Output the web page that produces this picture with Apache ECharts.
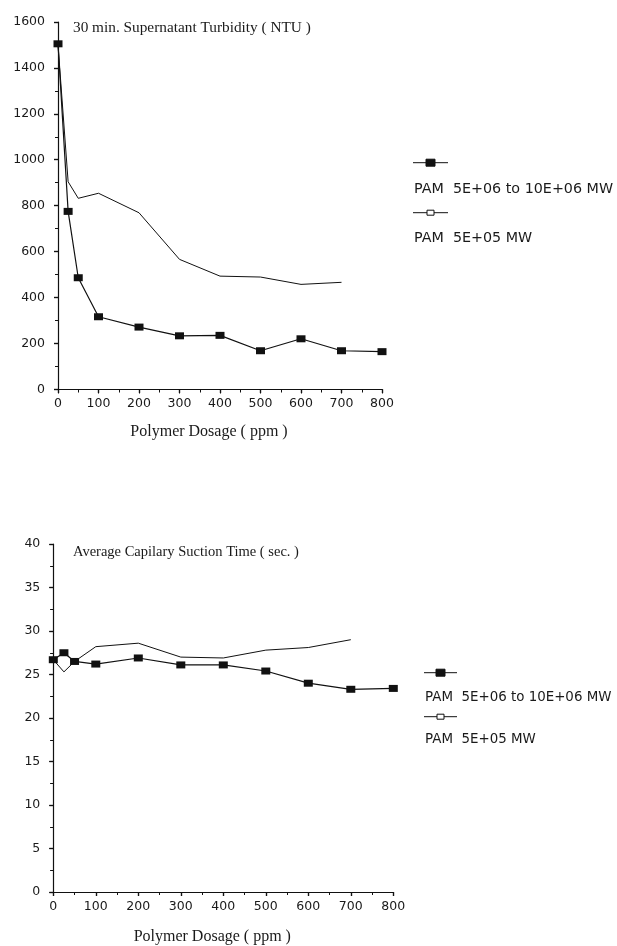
<!DOCTYPE html>
<html>
<head>
<meta charset="utf-8">
<script src="https://cdn.jsdelivr.net/npm/echarts@6/dist/echarts.min.js"></script>
<style>
  html, body { margin: 0; padding: 0; background: #fff; }
  #chart { width: 617px; height: 946px; }
</style>
</head>
<body>
<div id="chart"></div>
<script>
// Polymer dosage (ppm) at which each sample was taken
const dosage = [0, 25, 50, 100, 200, 300, 400, 500, 600, 700, 800];
const dosageLow = [0, 25, 50, 100, 200, 300, 400, 500, 600, 700];

// 30 min. supernatant turbidity (NTU)
const turbidityHigh = [1505, 775, 486, 316, 271, 233, 235, 168, 220, 168, 164];
const turbidityLow = [1500, 904, 832, 854, 769, 566, 493, 489, 457, 466];

// Average capillary suction time (sec.)
const cstHigh = [26.7, 27.5, 26.5, 26.2, 26.9, 26.1, 26.1, 25.4, 24.0, 23.3, 23.4];
const cstLow = [26.7, 25.3, 26.5, 28.2, 28.6, 27.0, 26.9, 27.8, 28.1, 29.0];

const seriesNames = ['PAM  5E+06 to 10E+06 MW', 'PAM  5E+05 MW'];
const titles = ['30 min. Supernatant Turbidity ( NTU )', 'Average Capilary Suction Time ( sec. )'];
const xName = 'Polymer Dosage ( ppm )';

const pairs = (xs, ys) => ys.map((v, i) => [xs[i], v]);

const INK = '#111';
const LABEL = '#1a1a1a';
const sansFont = '"DejaVu Sans", Verdana, sans-serif';
const serifFont = '"Liberation Serif", "Times New Roman", serif';

function xAxisPair(gridIndex, nameGap) {
  const base = {
    type: 'value', gridIndex, min: 0, max: 800, interval: 100,
    splitLine: { show: false },
    minorTick: { show: true, splitNumber: 2, length: 3, lineStyle: { color: INK, width: 1 } },
    axisTick: { show: true, length: 4, lineStyle: { color: INK, width: 1.2 } }
  };
  return [
    Object.assign({}, base, {
      name: xName, nameLocation: 'middle', nameGap,
      nameTextStyle: { fontFamily: serifFont, fontSize: 16, color: LABEL, padding: [0, 22, 0, 0] },
      axisLine: { show: true, lineStyle: { color: INK, width: 1.2 } },
      axisLabel: { fontFamily: sansFont, fontSize: 12.5, color: LABEL, margin: 8, formatter: v => String(v) }
    }),
    Object.assign({}, base, {
      axisLine: { show: false },
      axisTick: Object.assign({}, base.axisTick, { inside: true }),
      minorTick: Object.assign({}, base.minorTick, { inside: true }),
      axisLabel: { show: false }
    })
  ];
}

function yAxisPair(gridIndex, max, interval) {
  const base = {
    type: 'value', gridIndex, min: 0, max, interval,
    splitLine: { show: false },
    minorTick: { show: true, splitNumber: 2, length: 3, lineStyle: { color: INK, width: 1 } },
    axisTick: { show: true, length: 4, lineStyle: { color: INK, width: 1.2 } }
  };
  return [
    Object.assign({}, base, {
      axisLine: { show: true, lineStyle: { color: INK, width: 1.2 } },
      axisLabel: { fontFamily: sansFont, fontSize: 12.5, color: LABEL, margin: 13, formatter: v => String(v) }
    }),
    Object.assign({}, base, {
      axisLine: { show: false },
      axisTick: Object.assign({}, base.axisTick, { inside: true }),
      minorTick: Object.assign({}, base.minorTick, { inside: true }),
      axisLabel: { show: false }
    })
  ];
}

function filledSeries(x, y, data) {
  return {
    type: 'line', name: seriesNames[0], xAxisIndex: x, yAxisIndex: y,
    data, symbol: 'rect', symbolSize: [9, 7], showSymbol: true,
    itemStyle: { color: INK }, lineStyle: { color: INK, width: 1.2 },
    animation: false, z: 3
  };
}
function plainSeries(x, y, data) {
  return {
    type: 'line', name: seriesNames[1], xAxisIndex: x, yAxisIndex: y,
    data, showSymbol: false, symbol: 'none',
    lineStyle: { color: INK, width: 1 }, animation: false, z: 2
  };
}

// Legend key: short line with a square marker, label underneath
function legendKey(x1, x2, y, filled, w, h) {
  const cx = (x1 + x2) / 2;
  return [
    { type: 'line', shape: { x1, y1: y, x2, y2: y }, style: { stroke: INK, lineWidth: 1 } },
    { type: 'rect', shape: { x: cx - w / 2, y: y - h / 2, width: w, height: h },
      style: { fill: filled ? INK : '#fff', stroke: INK, lineWidth: 1 } }
  ];
}
function legendText(x, y, text, size) {
  return { type: 'text', x, y, style: { text, fill: LABEL, font: size + 'px ' + sansFont, textVerticalAlign: 'middle' } };
}
function titleText(x, y, text, size) {
  return { type: 'text', x, y, style: { text, fill: LABEL, font: size + 'px ' + serifFont, textVerticalAlign: 'middle' } };
}

const xs1 = xAxisPair(0, 34);
const xs2 = xAxisPair(1, 37);
const ys1 = yAxisPair(0, 1600, 200);
const ys2 = yAxisPair(1, 40, 5);

const option = {
  backgroundColor: '#fff',
  animation: false,
  grid: [
    { left: 58, top: 22, width: 324, height: 367.3 },
    { left: 53.3, top: 544, width: 340, height: 348.5 }
  ],
  xAxis: [xs1[0], xs1[1], xs2[0], xs2[1]],
  yAxis: [ys1[0], ys1[1], ys2[0], ys2[1]],
  series: [
    filledSeries(0, 0, pairs(dosage, turbidityHigh)),
    plainSeries(0, 0, pairs(dosageLow, turbidityLow)),
    filledSeries(2, 2, pairs(dosage, cstHigh)),
    plainSeries(2, 2, pairs(dosageLow, cstLow))
  ],
  graphic: [
    titleText(73, 28, titles[0], 15.3),
    titleText(73, 552, titles[1], 14.5),
    ...legendKey(413, 448, 162.7, true, 9, 7),
    legendText(414, 189, seriesNames[0], 14.3),
    ...legendKey(413, 448, 212.7, false, 7, 5),
    legendText(414, 238, seriesNames[1], 14.3),
    ...legendKey(424, 457, 672.7, true, 9, 7),
    legendText(425, 697.7, seriesNames[0], 13.4),
    ...legendKey(424, 457, 716.7, false, 7, 5),
    legendText(425, 740, seriesNames[1], 13.4)
  ]
};

echarts.init(document.getElementById('chart'), null, { renderer: 'canvas' }).setOption(option);
</script>
</body>
</html>
